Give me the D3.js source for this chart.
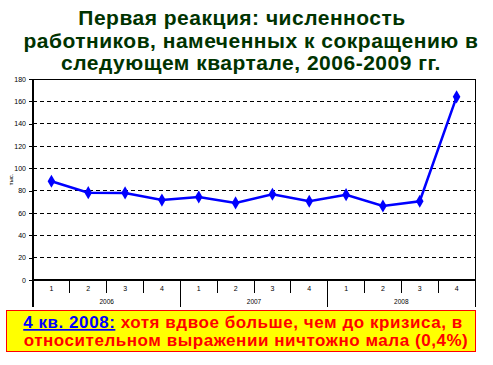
<!DOCTYPE html>
<html>
<head>
<meta charset="utf-8">
<script src="https://cdn.jsdelivr.net/npm/d3@7"></script>
<style>
  body { margin: 0; background: #fff; }
  svg { display: block; }
</style>
</head>
<body>
<div id="chart"></div>
<script>
// Data
const years = ['2006', '2007', '2008'];
const quarters = ['1', '2', '3', '4'];
const values = [88.4, 78.2, 78, 71.6, 74.3, 69, 76.8, 70.5, 76.4, 66.3, 70.5, 164];
const yTicks = [0, 20, 40, 60, 80, 100, 120, 140, 160, 180];
const titleLines = [
  'Первая реакция: численность',
  'работников, намеченных к сокращению в',
  'следующем квартале, 2006-2009 гг.'
];

const width = 493, height = 365;
const margin = { top: 79, right: 18, bottom: 85, left: 33 };
const innerW = width - margin.left - margin.right;
const innerH = height - margin.top - margin.bottom;

const svg = d3.select('#chart').append('svg')
  .attr('width', width)
  .attr('height', height);

// Title
svg.append('g').selectAll('text')
  .data(titleLines)
  .join('text')
  .attr('x', (d, i) => (i === 0 ? 242 : 251))
  .attr('y', (d, i) => 25 + i * 22.5)
  .attr('text-anchor', 'middle')
  .attr('fill', '#003300')
  .attr('font-size', '21px')
  .attr('font-weight', 'bold')
  .attr('letter-spacing', '0.5px')
  .attr('font-family', 'Liberation Sans, Arial, sans-serif')
  .text(d => d);

const cats = [];
years.forEach(y => quarters.forEach(q => cats.push(y + '-' + q)));

const x = d3.scaleBand().domain(cats).range([0, innerW]);
const y = d3.scaleLinear().domain([0, 180]).range([innerH, 0]);

const g = svg.append('g')
  .attr('transform', `translate(${margin.left},${margin.top})`);

// Gridlines (dashed)
g.append('g').selectAll('line')
  .data(yTicks.filter(t => t > 0 && t < 180))
  .join('line')
  .attr('x1', 0).attr('x2', innerW)
  .attr('y1', d => y(d)).attr('y2', d => y(d))
  .attr('stroke', '#000')
  .attr('stroke-width', 1)
  .attr('stroke-dasharray', '4,3')
  .attr('shape-rendering', 'crispEdges');

// Plot border top & right
g.append('line')
  .attr('x1', 0).attr('x2', innerW).attr('y1', 0).attr('y2', 0)
  .attr('stroke', '#000').attr('shape-rendering', 'crispEdges');
g.append('line')
  .attr('x1', innerW).attr('x2', innerW).attr('y1', 0).attr('y2', innerH + 27)
  .attr('stroke', '#000').attr('shape-rendering', 'crispEdges');

// Y axis
const yAxis = g.append('g')
  .call(d3.axisLeft(y).tickValues(yTicks).tickSize(4).tickSizeOuter(0));
yAxis.select('.domain').remove();
yAxis.selectAll('line').attr('shape-rendering', 'crispEdges');
yAxis.selectAll('text')
  .attr('font-size', '7px')
  .attr('font-family', 'Liberation Sans, Arial, sans-serif')
  .attr('x', -7);
g.append('line')
  .attr('x1', 0).attr('x2', 0).attr('y1', 0).attr('y2', innerH + 27)
  .attr('stroke', '#000').attr('stroke-width', 1.5).attr('shape-rendering', 'crispEdges');

// X axis baseline
g.append('line')
  .attr('x1', 0).attr('x2', innerW).attr('y1', innerH).attr('y2', innerH)
  .attr('stroke', '#000').attr('stroke-width', 1.5).attr('shape-rendering', 'crispEdges');

// Quarter separators
g.append('g').selectAll('line')
  .data(cats.slice(1))
  .join('line')
  .attr('x1', d => x(d)).attr('x2', d => x(d))
  .attr('y1', innerH)
  .attr('y2', (d, i) => ((i + 1) % 4 === 0 ? innerH + 27 : innerH + 13))
  .attr('stroke', '#000')
  .attr('shape-rendering', 'crispEdges');

// Quarter labels
g.append('g').selectAll('text')
  .data(cats)
  .join('text')
  .attr('x', d => x(d) + x.bandwidth() / 2)
  .attr('y', innerH + 11)
  .attr('text-anchor', 'middle')
  .attr('font-size', '7px')
  .attr('font-family', 'Liberation Sans, Arial, sans-serif')
  .text(d => d.split('-')[1]);

// Year labels
g.append('g').selectAll('text')
  .data(years)
  .join('text')
  .attr('x', d => (x(d + '-1') + x(d + '-4') + x.bandwidth()) / 2)
  .attr('y', innerH + 24)
  .attr('text-anchor', 'middle')
  .attr('font-size', '6.5px')
  .attr('font-family', 'Liberation Sans, Arial, sans-serif')
  .text(d => d);

// Y axis title
svg.append('text')
  .attr('transform', `translate(13,${margin.top + y(90)}) rotate(-90)`)
  .attr('text-anchor', 'middle')
  .attr('font-size', '6px')
  .attr('font-family', 'Liberation Sans, Arial, sans-serif')
  .text('тыс.');

// Line
const line = d3.line()
  .x((d, i) => x(cats[i]) + x.bandwidth() / 2)
  .y(d => y(d));

g.append('path')
  .datum(values)
  .attr('d', line)
  .attr('fill', 'none')
  .attr('stroke', '#0000ff')
  .attr('stroke-width', 2.5);

g.append('g').selectAll('path')
  .data(values)
  .join('path')
  .attr('transform', (d, i) => `translate(${x(cats[i]) + x.bandwidth() / 2},${y(d)})`)
  .attr('d', d3.symbol(d3.symbolDiamond, 50))
  .attr('fill', '#0000ff');

// Annotation box
svg.append('rect')
  .attr('x', 6.5).attr('y', 310.5)
  .attr('width', 469).attr('height', 41)
  .attr('fill', '#ffff00')
  .attr('stroke', '#ff0000')
  .attr('stroke-width', 1);

const note = svg.append('text')
  .attr('text-anchor', 'middle')
  .attr('font-size', '17px')
  .attr('font-weight', 'bold')
  .attr('letter-spacing', '0.55px')
  .attr('font-family', 'Liberation Sans, Arial, sans-serif');

const l1 = note.append('tspan').attr('x', 243).attr('y', 328);
l1.append('tspan')
  .attr('fill', '#0000ff')
  .attr('text-decoration', 'underline')
  .text('4 кв. 2008:');
l1.append('tspan')
  .attr('fill', '#ff0000')
  .text(' хотя вдвое больше, чем до кризиса, в');
note.append('tspan')
  .attr('x', 246).attr('y', 346)
  .attr('fill', '#ff0000')
  .text('относительном выражении ничтожно мала (0,4%)');
</script>
</body>
</html>
